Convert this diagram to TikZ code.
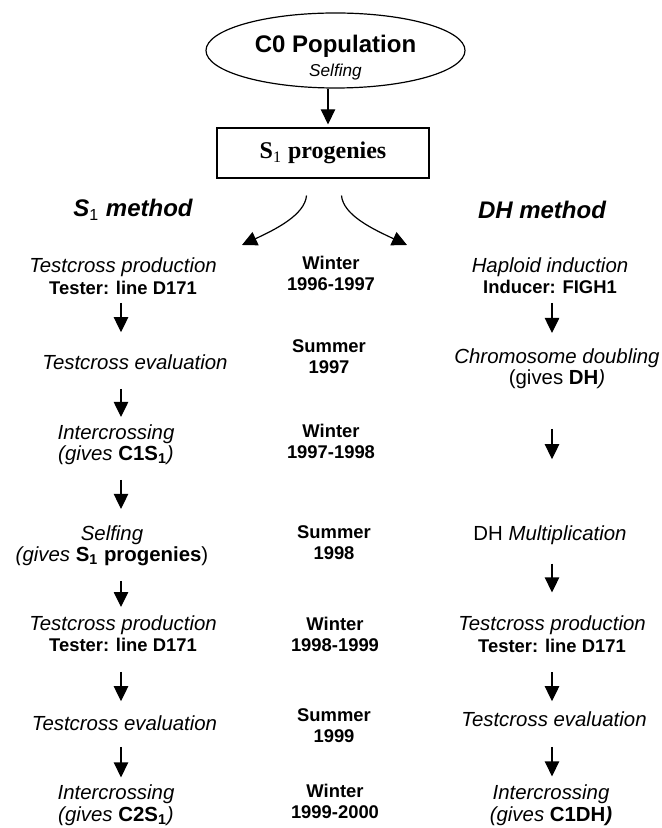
\documentclass[tikz,border=0pt]{standalone}
\usepackage{fontspec}
\setmainfont{Liberation Sans}
\newfontfamily\timesfont{Liberation Serif}
\usetikzlibrary{arrows.meta,shapes.geometric}

\newcommand\testerline{{\fontsize{9.2}{10.8}\selectfont\bfseries\upshape Tester: line D171}}

\begin{document}
\begin{tikzpicture}[
        x=0.5pt, y=-0.5pt,
        line width=0.6pt,
        arr/.style = {-{Triangle[length=7.5pt,width=7.2pt]}}
    ]
    \tikzset{
        popell/.style = {ellipse, draw=black, minimum width=129.5pt, minimum height=37.5pt, inner sep=0pt},
        progbox/.style = {rectangle, draw=black, minimum width=106pt, minimum height=25pt, inner sep=0pt},
        stepnode/.style = {align=center, inner sep=0pt, font=\fontsize{10.2}{10.8}\selectfont\itshape},
        seasonnode/.style = {align=center, inner sep=0pt, font=\fontsize{9.2}{10.5}\selectfont\bfseries},
        methodnode/.style = {inner sep=0pt, font=\fontsize{12}{14}\selectfont\bfseries\itshape},
    }
        \useasboundingbox (0,0) rectangle (661,828);
        \node[popell] (pop) at (335.5,50.5) {};
        \node[align=center, inner sep=0pt] (poptext) at (335.5,57.5)
            {{\fontsize{12}{12}\selectfont\bfseries C0 Population}\\{\fontsize{8.6}{12}\selectfont\itshape Selfing}};
        \node[progbox] (prog) at (323,153)
            {\fontsize{12}{14}\selectfont\timesfont\bfseries S\textsubscript{\mdseries 1} progenies};
        %
        \node[methodnode] (s1m) at (133,210) {S\textsubscript{\normalfont 1} method};
        \node[methodnode] (dhm) at (542,210) {DH method};
        %
        \node[stepnode] (s1a) at (123,276) {Testcross production\\\testerline};
        \node[stepnode] (s1b) at (135,362) {Testcross evaluation};
        \node[stepnode] (s1c) at (116,444.6) {Intercrossing\\(gives \textup{\bfseries C1S\textsubscript{1}})};
        \node[stepnode] (s1d) at (112,545.6) {Selfing\\(gives \textup{\bfseries S\textsubscript{1} progenies\mdseries)}};
        \node[stepnode] (s1e) at (123,633.6) {Testcross production\\\testerline};
        \node[stepnode] (s1f) at (124.5,723) {Testcross evaluation};
        \node[stepnode] (s1g) at (116,805.5) {Intercrossing\\(gives \textup{\bfseries C2S\textsubscript{1}})};
        %
        \node[seasonnode] (yr1) at (331,273.5) {Winter\\1996-1997};
        \node[seasonnode] (yr2) at (329,357) {Summer\\1997};
        \node[seasonnode] (yr3) at (331,441) {Winter\\1997-1998};
        \node[seasonnode] (yr4) at (334,542.5) {Summer\\1998};
        \node[seasonnode] (yr5) at (335,634) {Winter\\1998-1999};
        \node[seasonnode] (yr6) at (334,725.5) {Summer\\1999};
        \node[seasonnode] (yr7) at (335,801) {Winter\\1999-2000};
        %
        \node[stepnode] (dha) at (550,275.7) {Haploid induction\\{\fontsize{9.2}{10.8}\selectfont\bfseries\upshape Inducer: FIGH1}};
        \node[stepnode] (dhb) at (557,368.6) {Chromosome doubling\\\textup{(gives \textbf{DH}})};
        \node[stepnode] (dhc) at (550,535) {\textup{DH} Multiplication};
        \node[stepnode] (dhd) at (552,634) {Testcross production\\\testerline};
        \node[stepnode] (dhe) at (554,719) {Testcross evaluation};
        \node[stepnode] (dhf) at (551,805.5) {Intercrossing\\(gives \textup{\bfseries C1DH}\textbf{)}};
        %
        \coordinate (scol) at (121,0);
        \coordinate (dcol) at (552,0);
        \coordinate (sl) at (242,245);
        \coordinate (dl) at (407,245);
        %
        \draw[arr, shorten >=1.5pt] ([xshift=-3.75pt]pop.south) -- ([xshift=2.5pt]prog.north);
        \draw[arr, shorten <=8.5pt] ([xshift=-7.5pt]prog.south) to[out=-95, in=25] (sl);
        \draw[arr, shorten <=8.5pt] ([xshift=8.5pt]prog.south) to[out=-85, in=155] (dl);
        %
        \draw[arr, shorten <=4pt, shorten >=10.85pt] (s1a.south -| scol) -- (s1b.north -| scol);
        \draw[arr, shorten <=9.35pt, shorten >=3.35pt] (s1b.south -| scol) -- (s1c.north -| scol);
        \draw[arr, shorten <=7.2pt, shorten >=7.85pt] (s1c.south -| scol) -- (s1d.north -| scol);
        \draw[arr, shorten <=7.2pt, shorten >=3.85pt] (s1d.south -| scol) -- (s1e.north -| scol);
        \draw[arr, shorten <=9.7pt, shorten >=6.85pt] (s1e.south -| scol) -- (s1f.north -| scol);
        \draw[arr, shorten <=7.85pt, shorten >=3.6pt] (s1f.south -| scol) -- (s1g.north -| scol);
        %
        \draw[arr, shorten <=4.2pt, shorten >=7.35pt] (dha.south -| dcol) -- (dhb.north -| dcol);
        \draw[arr, shorten <=19.7pt, shorten >=32.85pt] (dhb.south -| dcol) -- (dhc.north -| dcol);
        \draw[arr, shorten <=9.2pt, shorten >=11.35pt] (dhc.south -| dcol) -- (dhd.north -| dcol);
        \draw[arr, shorten <=9.7pt, shorten >=4.85pt] (dhd.south -| dcol) -- (dhe.north -| dcol);
        \draw[arr, shorten <=9.85pt, shorten >=4.1pt] (dhe.south -| dcol) -- (dhf.north -| dcol);
    \end{tikzpicture}
\end{document}
